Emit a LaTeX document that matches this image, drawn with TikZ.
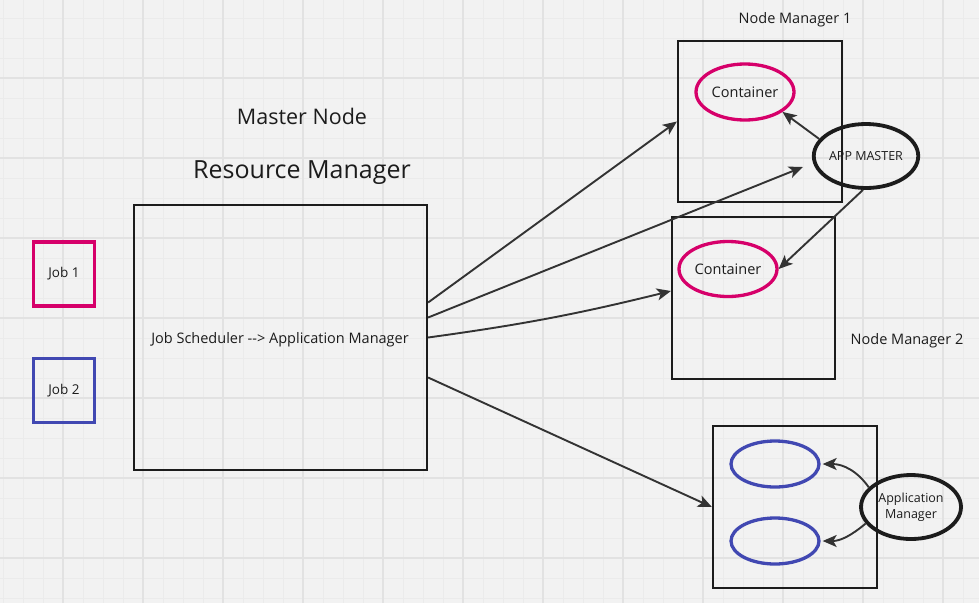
\documentclass[tikz,border=0pt]{standalone}
\usepackage{fontspec}
\setmainfont{Open Sans}
\usetikzlibrary{shapes.geometric,arrows.meta}
\definecolor{bg}{HTML}{F2F2F2}
\definecolor{gridminor}{HTML}{EBEBEB}
\definecolor{gridmajor}{HTML}{E2E2E2}
\definecolor{pinkc}{HTML}{D6006A}
\definecolor{bluec}{HTML}{4148B2}
\definecolor{inkc}{HTML}{1C1C1C}
\definecolor{arrowc}{HTML}{333333}
\tikzset{
  boxstyle/.style={draw=inkc, line width=2.2pt, rectangle, inner sep=0pt},
  jobbox/.style={draw=#1, line width=3.5pt, rectangle, inner sep=0pt, minimum width=61pt, minimum height=64pt, font=\fontsize{13.5}{16}\selectfont, text=inkc},
  ovalc/.style={draw=#1, line width=3.3pt, ellipse, inner sep=0pt},
  ovalk/.style={draw=inkc, line width=3.8pt, ellipse, inner sep=0pt, minimum width=100pt, minimum height=64pt, text=inkc},
  conn/.style={draw=arrowc, line width=1.9pt, -{Stealth[length=14pt,width=12pt,inset=3.5pt]}},
  lbl/.style={text=inkc, inner sep=0pt},
}
\begin{document}
\begin{tikzpicture}[x=1pt,y=-1pt]
\useasboundingbox (0,0) rectangle (979,603);
\fill[bg] (0,0) rectangle (979,603);
% grid
\foreach \gx in {3,23,...,979} \draw[gridminor, line width=1pt] (\gx,0) -- (\gx,603);
\foreach \gy in {18,38,...,603} \draw[gridminor, line width=1pt] (0,\gy) -- (979,\gy);
\foreach \gx in {63,143,...,979} \draw[gridmajor, line width=1.3pt] (\gx,0) -- (\gx,603);
\foreach \gy in {78,158,...,603} \draw[gridmajor, line width=1.3pt] (0,\gy) -- (979,\gy);

% titles
\node[lbl, font=\fontsize{21.5}{26}\selectfont] (mastertitle) at (302,116) {Master Node};
\node[lbl, font=\fontsize{25}{30}\selectfont] (rmtitle) at (302,172.5) {Resource Manager};

% jobs
\node[jobbox=pinkc] (job1) at (64,274) {\raisebox{-2pt}{Job 1}};
\node[jobbox=bluec] (job2) at (64,390.5) {\raisebox{-2pt}{Job 2}};

% main box
\node[boxstyle, minimum width=293pt, minimum height=265pt] (main) at (280.5,337.5) {};
\node[lbl, font=\fontsize{14.5}{17}\selectfont] (maintext) at (280,340) {Job Scheduler \hbox{-}\hbox{-}\hbox{>} Application Manager};

% node manager 1
\node[boxstyle, minimum width=164pt, minimum height=161pt] (nm1) at (760,121.5) {};
\node[lbl, font=\fontsize{14.5}{17}\selectfont] (nm1lbl) at (795,20) {Node Manager 1};
\node[ovalc=pinkc, minimum width=98pt, minimum height=56pt, font=\fontsize{14.5}{17}\selectfont, text=inkc] (c1) at (745,92) {\raisebox{-1pt}{Container}};

% node manager 2
\node[boxstyle, minimum width=163pt, minimum height=162pt] (nm2) at (753.5,298) {};
\node[lbl, font=\fontsize{14.5}{17}\selectfont] (nm2lbl) at (907,341) {Node Manager 2};
\node[ovalc=pinkc, minimum width=98pt, minimum height=55pt, font=\fontsize{14.5}{17}\selectfont, text=inkc] (c2) at (728,269) {\raisebox{-1pt}{Container}};

% app master
\node[ovalk, font=\fontsize{12.5}{15}\selectfont] (am) at (866,156) {APP MASTER};

% node manager 3
\node[boxstyle, minimum width=164pt, minimum height=162pt] (nm3) at (795,507) {};
\node[ovalc=bluec, minimum width=88pt, minimum height=46pt] (b1) at (775,464) {};
\node[ovalc=bluec, minimum width=88pt, minimum height=46pt] (b2) at (775,541) {};
\node[ovalk, align=center, font=\fontsize{12.5}{16}\selectfont] (appm) at (911,507) {Application\\Manager};

% connectors
\draw[conn] ([yshift=35pt]main.east) -- (nm1.west);
\draw[conn] ([yshift=20pt]main.east) -- ([xshift=-9pt,yshift=-11pt]am.west);
\draw[conn] (main.east) to[bend right=3] ([yshift=7pt]nm2.west);
\draw[conn] ([yshift=-40pt]main.east) -- (nm3.west);
\draw[conn] (am.160) -- (c1.-28);
\draw[conn] (am.-95) -- (c2.east);
\draw[conn] (appm.155) to[out=125,in=0] ([xshift=2pt]b1.east);
\draw[conn] (appm.200) to[out=220,in=0] ([xshift=2pt]b2.east);
\end{tikzpicture}
\end{document}
